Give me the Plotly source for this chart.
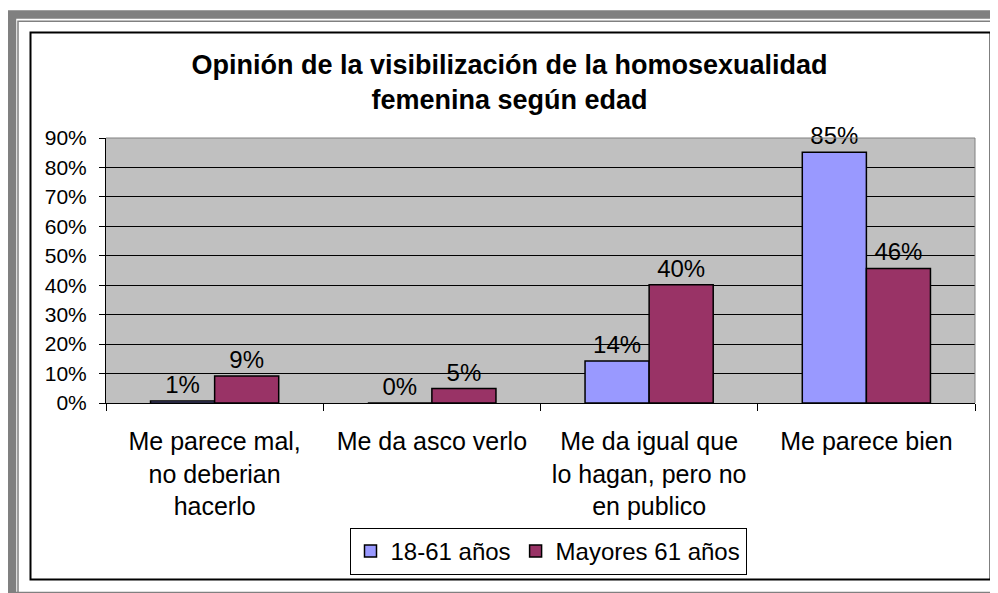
import plotly.graph_objects as go

# ---- data ----
categories = [
    "Me parece mal,<br>no deberian<br>hacerlo",
    "Me da asco verlo",
    "Me da igual que<br>lo hagan, pero no<br>en publico",
    "Me parece bien",
]
series_names = ["18-61 años", "Mayores 61 años"]
values_18_61 = [0.007, 0.0, 0.143, 0.852]
values_mayores = [0.092, 0.049, 0.402, 0.457]
y_tick_values = [0.0, 0.1, 0.2, 0.3, 0.4, 0.5, 0.6, 0.7, 0.8, 0.9]
title_text = "Opinión de la visibilización de la homosexualidad<br>femenina según edad"

# ---- geometry (page pixels; the page body has an 8px margin) ----
OFF = 8
W, H = 990, 585
ML, MT = 106 - OFF, 138 - OFF
MR = W - (975 - OFF)
MB = H - (403 - OFF)
PW = W - ML - MR
PH = H - MT - MB


def px(x):
    return (x - OFF - ML) / PW


def py(y):
    return (H - MB - (y - OFF)) / PH


FONT = "Liberation Sans, Arial, sans-serif"

fig = go.Figure()
colors = ["#9999FF", "#993366"]
for name, vals, col in zip(series_names, [values_18_61, values_mayores], colors):
    fig.add_trace(go.Bar(
        x=categories, y=vals, name=name,
        marker=dict(color=col, line=dict(color="black", width=1.5)),
        texttemplate="%{y:.0%}", textposition="outside",
        cliponaxis=False, constraintext="none",
        textfont=dict(size=24, color="black", family=FONT),
    ))

shapes = [
    # outer gray frame
    dict(type="rect", xref="paper", yref="paper",
         x0=px(12), x1=px(1010), y0=py(14.5), y1=py(596),
         line=dict(color="#808080", width=8.5), fillcolor="rgba(0,0,0,0)"),
    dict(type="path", xref="paper", yref="paper",
         path=f"M {px(1005)},{py(21.3)} L {px(18)},{py(21.3)} L {px(18)},{py(592)}",
         line=dict(color="#808080", width=1.5)),
    # chart border
    dict(type="rect", xref="paper", yref="paper",
         x0=px(30.5), x1=px(990.5), y0=py(32.5), y1=py(579.5),
         line=dict(color="black", width=2), fillcolor="rgba(0,0,0,0)"),
    # plot-area top/right border
    dict(type="line", xref="paper", yref="paper", x0=0, x1=1, y0=1, y1=1,
         line=dict(color="#808080", width=1)),
    dict(type="line", xref="paper", yref="paper", x0=1, x1=1, y0=0, y1=1,
         line=dict(color="#808080", width=1)),
]

fig.update_layout(
    width=W, height=H,
    margin=dict(l=ML, r=MR, t=MT, b=MB, pad=0),
    paper_bgcolor="white", plot_bgcolor="#C0C0C0",
    font=dict(family=FONT, color="black"),
    title=dict(text=title_text, xref="paper", x=px(509.5), xanchor="center",
               yref="container", y=1 - (74 - OFF) / H, yanchor="top",
               font=dict(size=27, family=FONT, weight="bold", color="black")),
    barmode="group", bargap=0.41, bargroupgap=0,
    showlegend=True,
    legend=dict(orientation="h", x=px(548), xanchor="center",
                y=py(528), yanchor="top",
                bordercolor="black", borderwidth=1, bgcolor="white",
                font=dict(size=24, family=FONT), traceorder="normal"),
    shapes=shapes,
)
fig.update_xaxes(
    tickson="boundaries", ticks="outside", ticklen=7, tickcolor="black",
    showline=True, linecolor="black", linewidth=1,
    tickfont=dict(size=25, family=FONT), ticklabelstandoff=16,
    showgrid=False,
)
fig.update_yaxes(
    range=[0, 0.9], tickvals=y_tick_values, tickformat=".0%",
    showgrid=True, gridcolor="black", gridwidth=1,
    showline=True, linecolor="black", linewidth=1,
    ticks="outside", ticklen=6, tickcolor="black",
    tickfont=dict(size=21, family=FONT), ticklabelstandoff=8,
    zeroline=False,
)

fig.write_html("out.html")
